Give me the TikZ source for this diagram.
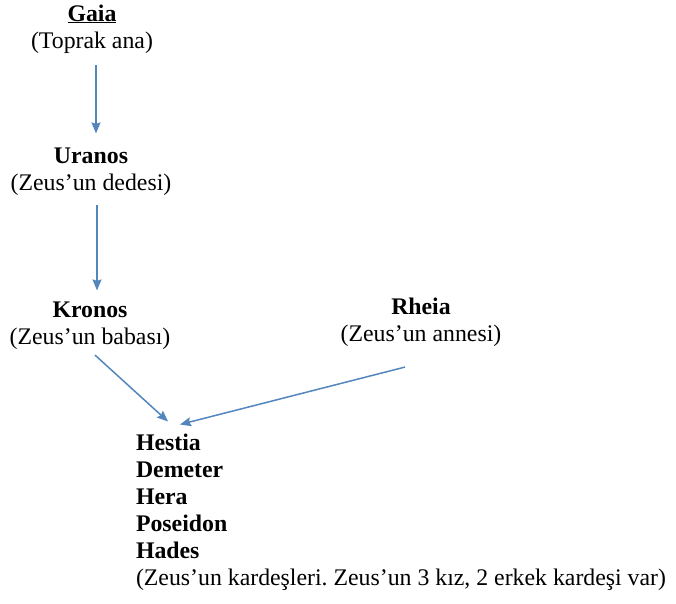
\documentclass[tikz,border=0pt]{standalone}
\usepackage{fontspec}
\setmainfont{Liberation Serif}
\usetikzlibrary{arrows.meta}
\definecolor{arrblue}{RGB}{84,134,190}
\begin{document}
\begin{tikzpicture}[x=1pt,y=-1pt,
  every node/.style={inner sep=0pt,outer sep=0pt,font=\fontsize{23.8}{27}\selectfont\frenchspacing},
  person/.style={align=center,anchor=base},
  arr/.style={draw=arrblue,line width=1.5pt,-{Stealth[length=11pt,width=9pt,inset=1.5pt]}}]
\useasboundingbox (0,0) rectangle (676,603);
\node[person] (gaia) at (92,48) {\underline{\textbf{Gaia}}\\(Toprak ana)};
\node[person] (uranos) at (91,190) {\textbf{Uranos}\\(Zeus’un dedesi)};
\node[person] (kronos) at (90,344) {\textbf{Kronos}\\(Zeus’un babası)};
\node[person] (rheia) at (421,341) {\textbf{Rheia}\\(Zeus’un annesi)};
\node[align=left,anchor=base west] (sib) at (136,585) {\textbf{Hestia}\\\textbf{Demeter}\\\textbf{Hera}\\\textbf{Poseidon}\\\textbf{Hades}\\(Zeus’un kardeşleri. Zeus’un 3 kız, 2 erkek kardeşi var)};
\draw[arr] ([shift={(4,12)}]gaia.south) -- ([shift={(5,-14)}]uranos.north);
\draw[arr] ([shift={(6,10)}]uranos.south) -- ([shift={(7,-11)}]kronos.north);
\draw[arr] ([shift={(5,6)}]kronos.south) -- ([shift={(32,-12)}]sib.north west);
\draw[arr] ([shift={(-16,21)}]rheia.south) -- ([shift={(44,-9)}]sib.north west);
\end{tikzpicture}
\end{document}
